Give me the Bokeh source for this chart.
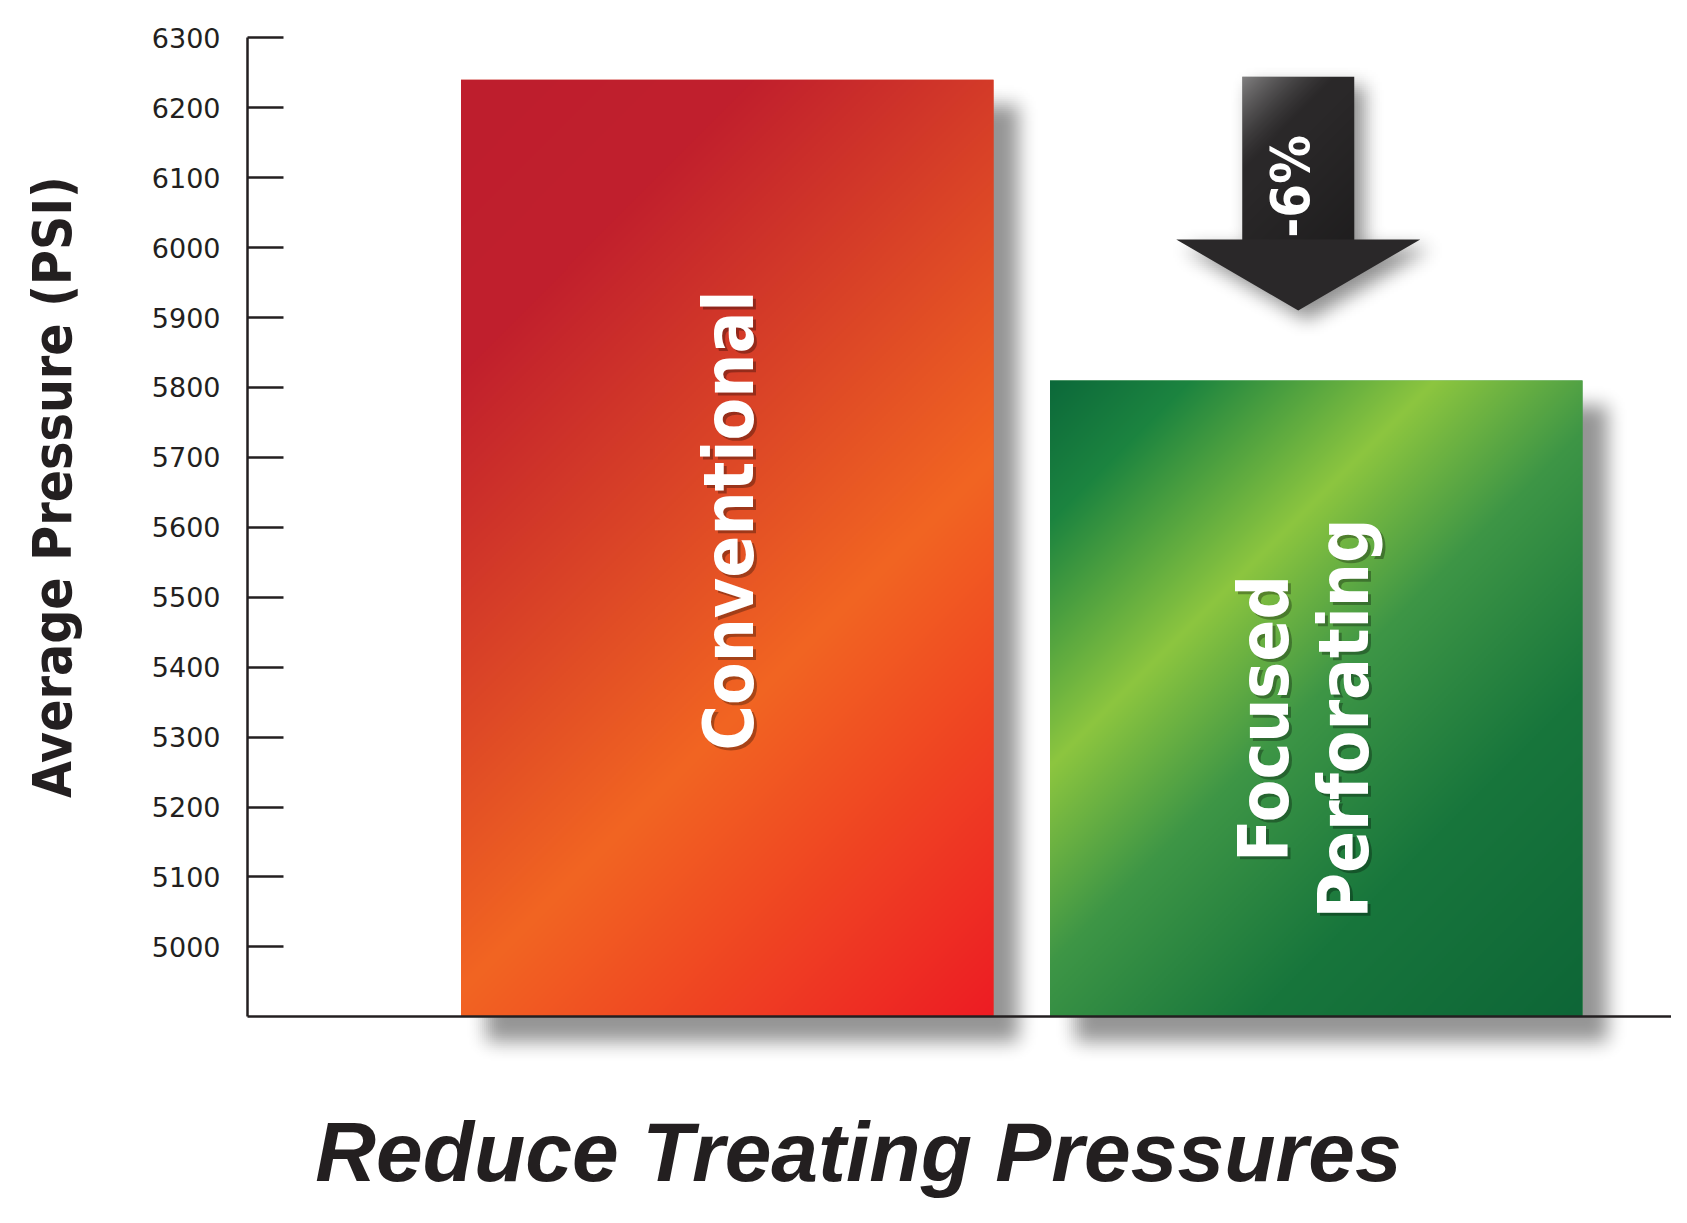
import numpy as np
from bokeh.plotting import figure
from bokeh.models import Range1d, FixedTicker
from bokeh.core.properties import value
from bokeh.embed import file_html
from bokeh.resources import INLINE

# ---------------- data ----------------
categories = ["Conventional", "Focused Perforating"]
avg_pressure = [6240, 5810]
y_ticks = [5000, 5100, 5200, 5300, 5400, 5500, 5600, 5700, 5800, 5900, 6000, 6100, 6200, 6300]
y_floor = 4900
change_label = "-6%"
y_label = "Average Pressure (PSI)"
title_text = "Reduce Treating Pressures"

# ---------------- layout (picture pixels) ----------------
W, H = 1671, 1207
Y_TOP_PX, Y_FLOOR_PX = 37.3, 1016.3
PXU_Y = (Y_FLOOR_PX - Y_TOP_PX) / (y_ticks[-1] - y_floor)
STEP_PX = 589.0
C1_PX = 726.75
BAR_W = 532.5 / STEP_PX
AXIS_PX = 247
INK = "#231F20"
COND = "'DejaVu Sans Condensed', 'Liberation Sans Narrow', 'Liberation Sans'"


def fx(px):
    return 1 + (px - C1_PX) / STEP_PX


def fy(py):
    return y_ticks[-1] - (py - Y_TOP_PX) / PXU_Y


def px_of(x):
    return C1_PX + (x - 1) * STEP_PX


def py_of(y):
    return Y_TOP_PX + (y_ticks[-1] - y) * PXU_Y


xpos = [i + 1 for i in range(len(categories))]

x_range = Range1d(fx(0), fx(W))
y_range = Range1d(fy(H), fy(0))

p = figure(width=W, height=H, x_range=x_range, y_range=y_range,
           output_backend="svg", toolbar_location=None,
           min_border=0, min_border_left=0, min_border_right=0,
           min_border_top=0, min_border_bottom=0,
           background_fill_color="white", border_fill_color="white",
           outline_line_color=None)
p.xgrid.visible = False
p.ygrid.visible = False


# ---------------- raster helpers ----------------
def grid(x0, y0, x1, y1, step):
    nx = max(2, int(round((x1 - x0) / step)))
    ny = max(2, int(round((y1 - y0) / step)))
    xs = x0 + (np.arange(nx) + 0.5) * (x1 - x0) / nx
    ys = y0 + (np.arange(ny) + 0.5) * (y1 - y0) / ny
    return np.meshgrid(xs, ys)


def box_blur(a, r, axis):
    if r < 1:
        return a
    pad = [(0, 0), (0, 0)]
    pad[axis] = (r + 1, r)
    c = np.cumsum(np.pad(a, pad, mode="constant"), axis=axis)
    n = a.shape[axis]
    hi = np.take(c, np.arange(2 * r + 1, 2 * r + 1 + n), axis=axis)
    lo = np.take(c, np.arange(0, n), axis=axis)
    return (hi - lo) / (2 * r + 1)


def blur(a, r):
    r = int(round(r))
    for _ in range(3):
        a = box_blur(a, r, 0)
        a = box_blur(a, r, 1)
    return a


def to_uint32(r, g, b, a):
    ny, nx = a.shape
    img = np.empty((ny, nx, 4), dtype=np.uint8)
    img[..., 0] = np.clip(r, 0, 255)
    img[..., 1] = np.clip(g, 0, 255)
    img[..., 2] = np.clip(b, 0, 255)
    img[..., 3] = np.clip(a * 255, 0, 255)
    img = np.ascontiguousarray(img[::-1])
    return img.view(np.uint32).reshape(ny, nx)


def place(img, x0, y0, x1, y1):
    p.image_rgba(image=[img], x=fx(x0), y=fy(y1), dw=fx(x1) - fx(x0), dh=fy(y0) - fy(y1))


def ramp(t, stops):
    ts = [s[0] for s in stops]
    return [np.interp(t, ts, [s[1][k] for s in stops]) for k in range(3)]


def shadow(mask_fn, x0, y0, x1, y1, dx, dy, rad, alpha, step=2):
    X, Y = grid(x0, y0, x1, y1, step)
    m = mask_fn(X - dx, Y - dy).astype(float)
    m = blur(m, rad / step)
    z = np.zeros_like(m)
    place(to_uint32(z, z, z, m * alpha), x0, y0, x1, y1)


# ---------------- bar shadows ----------------
for xc, v in zip(xpos, avg_pressure):
    L, R = px_of(xc - BAR_W / 2), px_of(xc + BAR_W / 2)
    T, B = py_of(v), py_of(y_floor)
    dx = dy = 25
    pad = 40
    shadow(lambda X, Y, L=L, R=R, T=T, B=B: (X >= L) & (X <= R) & (Y >= T) & (Y <= B),
           L + dx - pad, T + dy - pad, R + dx + pad, B + dy + pad, dx, dy, 9, 0.42)

# ---------------- arrow geometry (picture px) ----------------
A_CX = px_of(xpos[1]) - 18
A_TOP = py_of(avg_pressure[0]) - 3
A_TIP = py_of(avg_pressure[1]) - 70
A_HEAD = A_TIP - 71
A_SH, A_HH = 56, 122


def arrow_mask(X, Y):
    shaft = (np.abs(X - A_CX) <= A_SH) & (Y >= A_TOP) & (Y <= A_HEAD)
    head = (Y >= A_HEAD) & (Y <= A_TIP) & (np.abs(X - A_CX) <= A_HH * (A_TIP - Y) / (A_TIP - A_HEAD))
    return shaft | head


shadow(arrow_mask, A_CX - A_HH - 10, A_TOP - 10, A_CX + A_HH + 40, A_TIP + 40, 9, 10, 7, 0.45)

# ---------------- bars ----------------
p.vbar(x=xpos, top=avg_pressure, bottom=y_floor, width=BAR_W,
       fill_color=["#E0452A", "#3E9A48"], line_color=None)

bar_stops = [
    [(0.0, (190, 30, 45)), (0.2, (193, 32, 45)), (0.62, (242, 101, 34)), (1.0, (237, 28, 36))],
    [(0.0, (12, 105, 58)), (0.12, (28, 132, 64)), (0.33, (141, 198, 63)), (0.5, (62, 150, 70)),
     (0.72, (24, 118, 60)), (1.0, (14, 102, 55))],
]
for xc, v, stops in zip(xpos, avg_pressure, bar_stops):
    L, R = px_of(xc - BAR_W / 2), px_of(xc + BAR_W / 2)
    T, B = py_of(v), py_of(y_floor)
    X, Y = grid(L, T, R, B, 2)
    t = ((X - L) + (Y - T)) / ((R - L) + (B - T))
    r, g, b = ramp(t, stops)
    img = to_uint32(r, g, b, np.ones_like(t))
    p.image_rgba(image=[img], x=xc - BAR_W / 2, y=y_floor, dw=BAR_W, dh=v - y_floor)

# ---------------- arrow ----------------
ax_px = [A_CX - A_SH, A_CX + A_SH, A_CX + A_SH, A_CX + A_HH, A_CX, A_CX - A_HH, A_CX - A_SH]
ay_px = [A_TOP, A_TOP, A_HEAD, A_HEAD, A_TIP, A_HEAD, A_HEAD]
p.patch(x=[fx(v) for v in ax_px], y=[fy(v) for v in ay_px],
        fill_color="#2A2829", line_color=None)
sx0, sx1, sy0, sy1 = A_CX - A_SH, A_CX + A_SH, A_TOP, A_HEAD
X, Y = grid(sx0, sy0, sx1, sy1, 1)
d = (X - sx0) + (Y - sy0)
shine = 0.42 * np.clip(1 - d / 100.0, 0, 1) ** 1.4
dark = 0.25 * np.clip((d - 120) / 150.0, 0, 1)
ones = np.ones_like(d)
place(to_uint32(255 * ones, 255 * ones, 255 * ones, shine), sx0, sy0, sx1, sy1)
place(to_uint32(0 * ones, 0 * ones, 0 * ones, dark), sx0, sy0, sx1, sy1)

# ---------------- texts ----------------
lab_x = [fx(728), fx(1303.5)]
lab_y = [fy(520), fy(718)]
lab_text = [categories[0], categories[1].replace(" ", "\n")]
p.text(x=lab_x, y=lab_y, text=lab_text, angle=np.pi / 2, x_offset=3, y_offset=3,
       text_align="center", text_baseline="middle", text_line_height=1.0,
       text_font=value(COND), text_font_style="bold", text_font_size="69px",
       text_color="black", text_alpha=0.3)
p.text(x=lab_x, y=lab_y, text=lab_text, angle=np.pi / 2,
       text_align="center", text_baseline="middle", text_line_height=1.0,
       text_font=value(COND), text_font_style="bold", text_font_size="69px",
       text_color="white")

p.text(x=[fx(1290)], y=[fy(186)], text=[change_label], angle=np.pi / 2,
       text_align="center", text_baseline="middle",
       text_font=value(COND), text_font_style="bold", text_font_size="54px",
       text_color="white")

p.text(x=[fx(52)], y=[fy(486.5)], text=[y_label], angle=np.pi / 2,
       text_align="center", text_baseline="middle",
       text_font=value(COND), text_font_style="bold", text_font_size="53px",
       text_color=INK)

p.text(x=[fx(858)], y=[fy(1151)], text=[title_text],
       text_align="center", text_baseline="middle",
       text_font=value("Liberation Sans"), text_font_style="bold italic", text_font_size="84px",
       text_color=INK)

# ---------------- axes ----------------
ya = p.yaxis[0]
ya.fixed_location = fx(AXIS_PX)
ya.bounds = (y_floor, y_ticks[-1])
ya.ticker = FixedTicker(ticks=y_ticks)
ya.major_tick_in = 36
ya.major_tick_out = 0
ya.minor_tick_line_color = None
ya.axis_line_width = 2.5
ya.axis_line_color = INK
ya.major_tick_line_width = 2.5
ya.major_tick_line_color = INK
ya.major_label_standoff = 27
ya.major_label_text_font = "DejaVu Sans"
ya.major_label_text_font_size = "27px"
ya.major_label_text_color = INK

xa = p.xaxis[0]
xa.fixed_location = y_floor
xa.bounds = (fx(AXIS_PX), x_range.end)
xa.ticker = FixedTicker(ticks=[])
xa.major_label_text_font_size = "0px"
xa.major_tick_line_color = None
xa.minor_tick_line_color = None
xa.axis_line_width = 2.5
xa.axis_line_color = INK

open("out.html", "w").write(file_html(p, INLINE))
